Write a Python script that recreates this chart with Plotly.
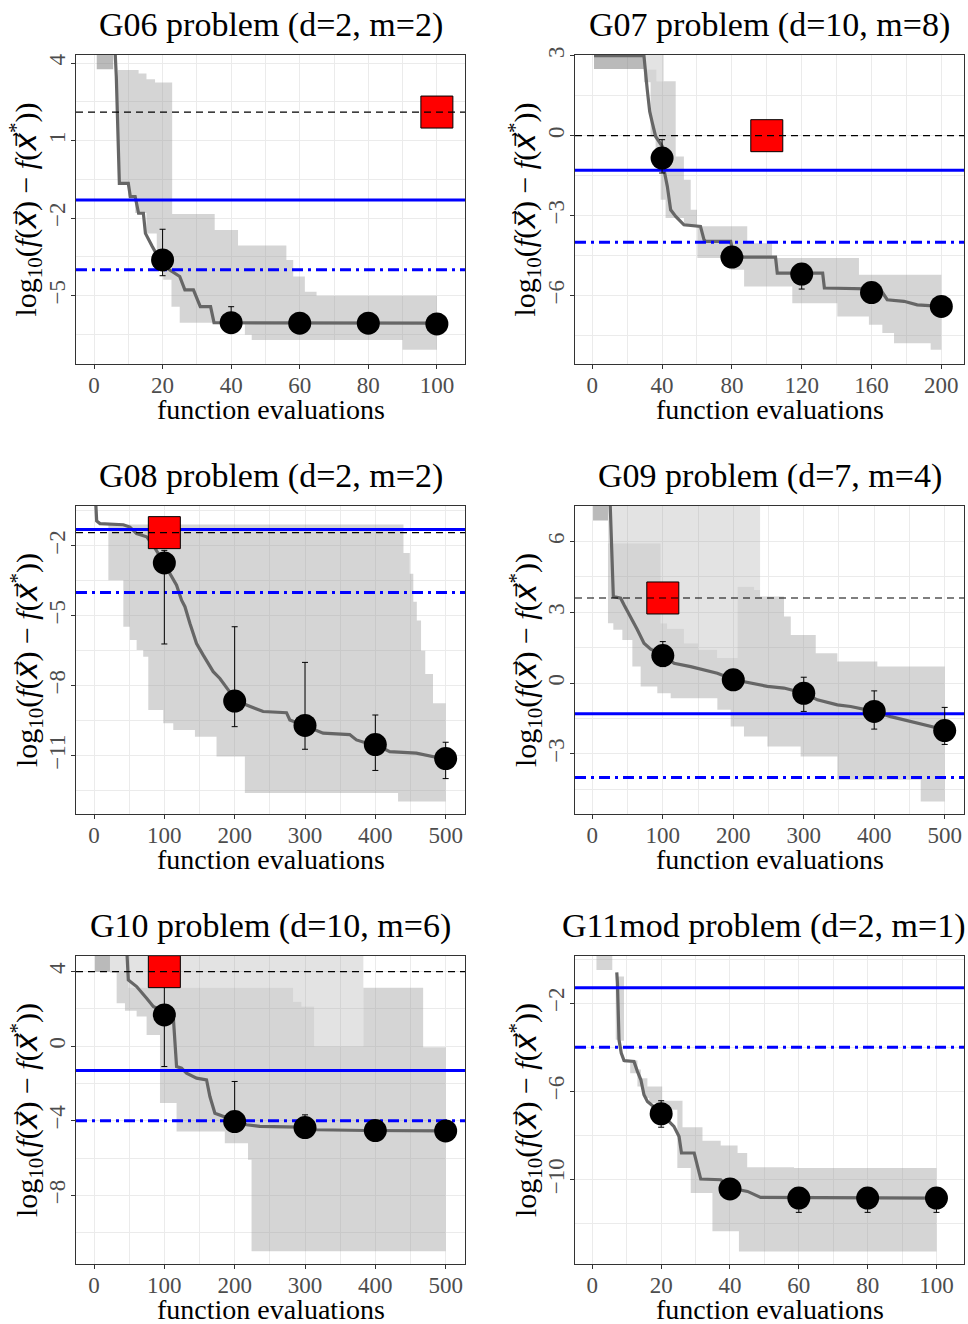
import plotly.graph_objects as go

# ---------------- data ----------------
TITLES = ["G06 problem (d=2, m=2)", "G07 problem (d=10, m=8)",
          "G08 problem (d=2, m=2)", "G09 problem (d=7, m=4)",
          "G10 problem (d=10, m=6)", "G11mod problem (d=2, m=1)"]

BLUE_SOLID = -1.3
BLUE_DASHDOT = -4.0

# G06
g06_med_x = [1, 5.6, 6.5, 7.4, 10, 10.6, 12, 13, 14.4, 15, 17, 19.2, 22, 25, 26.5, 29, 31, 34, 35, 100]
g06_med_y = [6, 6, 3.5, -0.65, -0.65, -1.17, -1.17, -1.81, -1.81, -2.59, -3.1, -3.62, -4.0, -4.26, -4.78, -4.78, -5.43, -5.43, -6.05, -6.07]
g06_up_x = [7, 13, 15.3, 17.8, 20.9, 22.8, 35.2, 42, 56.1, 58.1, 61.5, 64.9, 100]
g06_up_y = [3.74, 3.6, 3.38, 3.25, 3.25, -1.84, -2.46, -3.06, -3.62, -4.26, -4.85, -5.01, -5.01]
g06_lo_x = [7, 8.1, 10, 12, 15.3, 18.3, 20.2, 22.6, 25, 44, 46, 90, 100]
g06_lo_y = [-0.6, -0.65, -1.17, -1.8, -2.59, -3.5, -4.39, -5.43, -6.05, -6.52, -6.72, -7.1, -7.1]
g06_light_x, g06_light_y = [], []
g06_dark = [0.8, 5.6, 3.77]
g06_pt_x = [20, 40, 60, 80, 100]
g06_pt_y = [-3.62, -6.05, -6.07, -6.07, -6.1]
g06_pt_hi = [-2.43, -5.43, -6.0, -6.0, -6.02]
g06_pt_lo = [-4.23, -6.2, -6.15, -6.15, -6.18]
g06_ref = 2.11
g06_sq_x = 100

# G07
g07_med_x = [1, 29.6, 31.5, 32.9, 34.4, 36.3, 40.1, 41.1, 43, 44.9, 47.8, 52.5, 62, 64, 65, 79.3, 81.2, 105, 106, 132, 133, 165, 169, 178.6, 186.2, 193.8, 200]
g07_med_y = [3, 3, 1.73, 0.91, 0.48, -0.03, -0.4, -1.28, -1.9, -2.78, -3.03, -3.34, -3.4, -3.9, -3.96, -3.96, -4.55, -4.55, -5.15, -5.15, -5.71, -5.75, -6.15, -6.21, -6.34, -6.37, -6.4]
g07_up_x = [29.6, 36.8, 47.8, 52.5, 56.4, 60, 88.8, 103, 152.8, 200]
g07_up_y = [2.48, 2.04, -0.78, -1.65, -2.78, -3.4, -4.03, -4.59, -5.21, -5.21]
g07_lo_x = [29.6, 33.4, 36.3, 39.2, 42, 52.5, 60.2, 79.3, 87, 114.6, 140.4, 158.5, 166.2, 172.9, 193.9, 200]
g07_lo_y = [2.0, -0.03, -0.9, -2.4, -3.09, -3.4, -4.59, -5.03, -5.65, -6.28, -6.78, -7.09, -7.4, -7.78, -8.03, -8.03]
g07_light_x = [29.6, 36.8, 41]
g07_light_y = [2.48, 2.04, 2.04]
g07_dark = [1, 29.6, 2.5]
g07_pt_x = [40, 80, 120, 160, 200]
g07_pt_y = [-0.84, -4.55, -5.19, -5.88, -6.4]
g07_pt_hi = [-0.15, -4.45, -4.95, -5.75, -6.3]
g07_pt_lo = [-1.4, -4.65, -5.75, -6.0, -6.5]
g07_ref = 0.0
g07_sq_x = 100

# G08
g08_med_x = [1.4, 3.8, 8.5, 41.7, 51, 60.6, 74.8, 84.2, 98.5, 108, 117.4, 124.5, 129.3, 136.4, 145.8, 155.3, 169.5, 179, 197.9, 216.9, 240.5, 273.7, 278.4, 297.3, 325.8, 363.6, 373.1, 411, 420.5, 458.3, 482, 500]
g08_med_y = [0.5, -0.93, -1.04, -1.09, -1.19, -1.47, -1.61, -1.97, -2.69, -3.19, -3.69, -4.33, -4.61, -5.33, -6.19, -6.69, -7.4, -7.69, -8.47, -8.83, -9.11, -9.16, -9.47, -9.69, -10.04, -10.1, -10.33, -10.69, -10.83, -10.9, -11.04, -11.16]
g08_up_x = [18, 434.7, 440, 449, 454, 459, 465, 471, 482, 500]
g08_up_y = [-1.08, -1.08, -2.3, -3.19, -4.4, -5.2, -6.5, -7.5, -8.76, -8.76]
g08_lo_x = [18, 20.4, 41.7, 51, 60.6, 70, 77.2, 98.5, 112.7, 143.5, 174.2, 214.5, 432.3, 500]
g08_lo_y = [-1.1, -3.47, -5.47, -6.04, -6.47, -6.76, -9.04, -9.61, -9.9, -10.19, -11.04, -12.61, -12.97, -12.97]
g08_light_x, g08_light_y = [], []
g08_dark = None
g08_pt_x = [100, 200, 300, 400, 500]
g08_pt_y = [-2.73, -8.66, -9.71, -10.53, -11.13]
g08_pt_hi = [-2.19, -5.47, -7.0, -9.26, -10.43]
g08_pt_lo = [-6.21, -9.76, -10.73, -11.64, -11.99]
g08_ref = -1.43
g08_sq_x = 100

# G09
g09_med_x = [1, 23.7, 29.8, 40.2, 44.9, 54.4, 63.9, 73.3, 82.8, 101.7, 115.9, 139.5, 177.4, 201, 224.7, 248.4, 272, 300.4, 319.3, 347.7, 366.6, 399.7, 423.4, 461.2, 500]
g09_med_y = [9, 9, 3.67, 3.6, 3.32, 2.82, 2.26, 1.69, 1.44, 1.17, 0.84, 0.7, 0.42, 0.14, 0, -0.14, -0.21, -0.43, -0.71, -0.92, -0.99, -1.2, -1.42, -1.7, -1.98]
g09_up_x = [22.2, 97, 106, 130, 150, 177, 206, 229.5, 238, 272, 281.6, 317, 347.7, 404.4, 500]
g09_up_y = [5.93, 2.54, 2.3, 1.69, 1.41, 1.06, 4.09, 3.95, 3.67, 2.82, 2.04, 1.27, 0.92, 0.7, 0.7]
g09_lo_x = [22.2, 29.8, 42.6, 56.8, 68.6, 92.2, 111.2, 177.4, 196.3, 215.2, 248.4, 295.6, 347.7, 466, 500]
g09_lo_y = [2.54, 2.26, 1.83, 0.7, -0.14, -0.43, -0.64, -1.13, -1.84, -2.26, -2.69, -3.11, -4.1, -5.02, -5.02]
g09_light_x = [22.2, 97, 106, 130, 150, 177, 206, 229.5, 238]
g09_light_y = [5.93, 2.54, 2.3, 1.69, 1.41, 1.06, 4.09, 3.95, 3.95]
g09_dark = [1, 22.2, 6.89]
g09_pt_x = [100, 200, 300, 400, 500]
g09_pt_y = [1.17, 0.14, -0.43, -1.2, -2.01]
g09_pt_hi = [1.76, 0.25, 0.25, -0.33, -1.03]
g09_pt_lo = [0.7, 0.0, -1.2, -1.95, -2.6]
g09_ref = 3.61
g09_sq_x = 100

# G10
g10_med_x = [1, 45.5, 48.8, 60.6, 74.8, 84.3, 98.5, 112.7, 117.4, 124.5, 131.6, 145.8, 160, 164.8, 171.9, 183.7, 197.9, 216.9, 235.8, 292.6, 316.3, 387.3, 500]
g10_med_y = [6, 6, 3.55, 3.2, 2.57, 2.13, 1.86, 1.59, -1.09, -1.18, -1.45, -1.71, -1.8, -2.7, -3.59, -3.77, -3.95, -4.21, -4.3, -4.34, -4.48, -4.52, -4.54]
g10_up_x = [22.7, 48.8, 283, 295, 313, 383, 468, 500]
g10_up_y = [4.0, 3.14, 2.39, 2.13, 0.0, 3.14, -0.05, -0.05]
g10_lo_x = [22.7, 32.2, 44, 60.6, 74.8, 93.8, 117.4, 186, 219, 224, 500]
g10_lo_y = [3.95, 2.3, 1.9, 1.6, 0.6, -3.05, -4.57, -5.2, -6.09, -11.0, -11.0]
g10_light_x = [22.7, 48.8, 283, 295, 313, 383]
g10_light_y = [4.0, 3.14, 2.39, 2.13, 0.0, 0.0]
g10_dark = [1.4, 22.7, 4.0]
g10_pt_x = [100, 200, 300, 400, 500]
g10_pt_y = [1.68, -4.04, -4.36, -4.52, -4.54]
g10_pt_hi = [3.5, -1.89, -3.68, -4.4, -4.45]
g10_pt_lo = [-1.09, -4.2, -4.5, -4.65, -4.65]
g10_ref = 4.0
g10_sq_x = 100

# G11mod
g11_med_x = [7.1, 7.3, 7.75, 8.4, 9.2, 12.1, 13.1, 14.1, 15, 16, 18.9, 23.7, 25.2, 25.9, 29.6, 31.5, 37.3, 40.2, 45.1, 48.9, 100]
g11_med_y = [-0.6, -1.1, -3.66, -4.26, -4.6, -4.64, -5.09, -5.47, -6.15, -6.45, -6.83, -7.58, -8.04, -8.79, -8.79, -9.97, -10.0, -10.38, -10.53, -10.8, -10.83]
g11_up_x = [6.8, 9.2, 12.1, 13.1, 14.1, 16, 20.3, 26.2, 32, 37.3, 42.2, 45, 58.6, 100]
g11_up_y = [-0.79, -4.57, -4.6, -5.0, -5.4, -5.77, -6.42, -7.62, -8.23, -8.45, -8.79, -9.43, -9.47, -9.47]
g11_lo_x = [6.8, 7.75, 9.2, 11, 13.1, 15, 16.5, 19.9, 24.7, 28.6, 34.9, 42.6, 100]
g11_lo_y = [-3.66, -3.7, -4.7, -5.17, -5.77, -6.3, -6.53, -6.83, -9.47, -10.6, -12.34, -13.25, -13.25]
g11_light_x, g11_light_y = [], []
g11_dark = [1.2, 5.8, -0.49]
g11_pt_x = [20, 40, 60, 80, 100]
g11_pt_y = [-7.01, -10.42, -10.83, -10.83, -10.83]
g11_pt_hi = [-6.42, -10.3, -10.75, -10.75, -10.75]
g11_pt_lo = [-7.62, -10.5, -11.48, -11.48, -11.48]
g11_ref = None
g11_sq_x = None

# axis ranges & ticks
x_ranges = [[-5.25, 108.2], [-9.9, 213], [-25.6, 527.5], [-24.6, 527.4], [-25.6, 527.5], [-5.04, 108.0]]
y_ranges = [[-7.65, 4.32], [-8.56, 3.025], [-13.51, -0.286], [-5.55, 7.51], [-11.68, 4.84], [-13.82, 0.14]]
x_ticks = [[0, 20, 40, 60, 80, 100], [0, 40, 80, 120, 160, 200], [0, 100, 200, 300, 400, 500],
           [0, 100, 200, 300, 400, 500], [0, 100, 200, 300, 400, 500], [0, 20, 40, 60, 80, 100]]
x_minor = [[10, 30, 50, 70, 90], [20, 60, 100, 140, 180], [50, 150, 250, 350, 450],
           [50, 150, 250, 350, 450], [50, 150, 250, 350, 450], [10, 30, 50, 70, 90]]
y_ticks = [[4, 1, -2, -5], [3, 0, -3, -6], [-2, -5, -8, -11], [6, 3, 0, -3], [4, 0, -4, -8], [-2, -6, -10]]
y_minor = [[2.5, -0.5, -3.5, -6.5], [1.5, -1.5, -4.5, -7.5], [-0.5, -3.5, -6.5, -9.5, -12.5],
           [7.5, 4.5, 1.5, -1.5, -4.5], [2, -2, -6, -10], [0, -4, -8, -12]]

panels = [
    dict(mx=g06_med_x, my=g06_med_y, ux=g06_up_x, uy=g06_up_y, lx=g06_lo_x, ly=g06_lo_y, hx=g06_light_x, hy=g06_light_y,
         dark=g06_dark, px=g06_pt_x, py=g06_pt_y, phi=g06_pt_hi, plo=g06_pt_lo, ref=g06_ref, sq=g06_sq_x),
    dict(mx=g07_med_x, my=g07_med_y, ux=g07_up_x, uy=g07_up_y, lx=g07_lo_x, ly=g07_lo_y, hx=g07_light_x, hy=g07_light_y,
         dark=g07_dark, px=g07_pt_x, py=g07_pt_y, phi=g07_pt_hi, plo=g07_pt_lo, ref=g07_ref, sq=g07_sq_x),
    dict(mx=g08_med_x, my=g08_med_y, ux=g08_up_x, uy=g08_up_y, lx=g08_lo_x, ly=g08_lo_y, hx=g08_light_x, hy=g08_light_y,
         dark=g08_dark, px=g08_pt_x, py=g08_pt_y, phi=g08_pt_hi, plo=g08_pt_lo, ref=g08_ref, sq=g08_sq_x),
    dict(mx=g09_med_x, my=g09_med_y, ux=g09_up_x, uy=g09_up_y, lx=g09_lo_x, ly=g09_lo_y, hx=g09_light_x, hy=g09_light_y,
         dark=g09_dark, px=g09_pt_x, py=g09_pt_y, phi=g09_pt_hi, plo=g09_pt_lo, ref=g09_ref, sq=g09_sq_x),
    dict(mx=g10_med_x, my=g10_med_y, ux=g10_up_x, uy=g10_up_y, lx=g10_lo_x, ly=g10_lo_y, hx=g10_light_x, hy=g10_light_y,
         dark=g10_dark, px=g10_pt_x, py=g10_pt_y, phi=g10_pt_hi, plo=g10_pt_lo, ref=g10_ref, sq=g10_sq_x),
    dict(mx=g11_med_x, my=g11_med_y, ux=g11_up_x, uy=g11_up_y, lx=g11_lo_x, ly=g11_lo_y, hx=g11_light_x, hy=g11_light_y,
         dark=g11_dark, px=g11_pt_x, py=g11_pt_y, phi=g11_pt_hi, plo=g11_pt_lo, ref=g11_ref, sq=g11_sq_x),
]

# ---------------- style / layout ----------------
W, H = 968, 1324
SERIF = "Liberation Serif, DejaVu Serif, serif"
RIB = "rgba(150,150,150,0.40)"
LIGHT = "rgba(150,150,150,0.27)"
DARK = "rgba(110,110,110,0.48)"
MED = "rgb(102,102,102)"

col_px = [(76, 465), (575, 964)]
row_px = [(55, 364), (506, 814), (956, 1264)]

fig = go.Figure()


def step_vertices(xs, ys):
    """Expand a step function (value ys[k] holds from xs[k] to xs[k+1]) into path vertices."""
    vx, vy = [xs[0]], [ys[0]]
    for k in range(1, len(xs)):
        vx += [xs[k], xs[k]]
        vy += [ys[k - 1], ys[k]]
    return vx, vy


def add_region(lx, ly, ux, uy, color, xa, ya):
    uxv, uyv = step_vertices(ux, uy)
    lxv, lyv = step_vertices(lx, ly)
    fig.add_trace(go.Scatter(x=uxv + lxv[::-1], y=uyv + lyv[::-1], mode="lines",
                             line=dict(width=0), fill="toself", fillcolor=color,
                             showlegend=False, hoverinfo="skip", xaxis=xa, yaxis=ya))


XVEC = "<i><span style=\"font-family:DejaVu Sans\">x\u20d7</span></i>"
YTITLE = ("log<sub>10</sub>(<i>f</i>(" + XVEC + ") \u2212 <i>f</i>(" + XVEC + "<sup>*</sup>))")

annotations = []
for i, p in enumerate(panels):
    r, c = divmod(i, 2)
    n = "" if i == 0 else str(i + 1)
    xa, ya = "x" + n, "y" + n
    x0p, x1p = col_px[c]
    y0p, y1p = row_px[r]
    xr, yr = x_ranges[i], y_ranges[i]
    top = yr[1] + 5

    axis_common = dict(showgrid=True, gridcolor="#ebebeb", gridwidth=1.1, zeroline=False,
                       showline=True, mirror=True, linecolor="#333333", linewidth=1.1,
                       ticks="outside", ticklen=4, tickwidth=1, tickcolor="#333333",
                       tickfont=dict(family=SERIF, size=23, color="#4d4d4d"), automargin=False)
    fig.update_layout(**{
        "xaxis" + n: dict(domain=[x0p / W, x1p / W], anchor=ya, range=xr, tickmode="array",
                          tickvals=x_ticks[i], ticklabelstandoff=-4,
                          minor=dict(tickmode="array", tickvals=x_minor[i], showgrid=True,
                                     gridcolor="#ebebeb", gridwidth=0.6, ticks=""),
                          **axis_common),
        "yaxis" + n: dict(domain=[1 - y1p / H, 1 - y0p / H], anchor=xa, range=yr, tickmode="array",
                          tickvals=y_ticks[i], tickangle=-90, ticklabelstandoff=-3,
                          minor=dict(tickmode="array", tickvals=y_minor[i], showgrid=True,
                                     gridcolor="#ebebeb", gridwidth=0.6, ticks=""),
                          **axis_common),
    })

    # light band (infinite upper quantile) up to the top
    if p["hx"]:
        add_region(p["hx"], p["hy"], p["hx"], [top] * len(p["hx"]), LIGHT, xa, ya)
    # darker early patch
    if p["dark"]:
        d0, d1, dv = p["dark"]
        add_region([d0, d1], [dv, dv], [d0, d1], [top, top], DARK if i != 5 else RIB, xa, ya)
    # main ribbon
    add_region(p["lx"], p["ly"], p["ux"], p["uy"], RIB, xa, ya)
    # median line
    fig.add_trace(go.Scatter(x=p["mx"], y=p["my"], mode="lines", line=dict(color=MED, width=3.2),
                             showlegend=False, hoverinfo="skip", xaxis=xa, yaxis=ya))
    # blue reference lines
    fig.add_trace(go.Scatter(x=xr, y=[BLUE_SOLID, BLUE_SOLID], mode="lines",
                             line=dict(color="#0000ff", width=3), showlegend=False, hoverinfo="skip",
                             xaxis=xa, yaxis=ya))
    fig.add_trace(go.Scatter(x=xr, y=[BLUE_DASHDOT, BLUE_DASHDOT], mode="lines",
                             line=dict(color="#0000ff", width=3, dash="11px,5px,3px,5px"),
                             showlegend=False, hoverinfo="skip", xaxis=xa, yaxis=ya))
    # points with error bars
    fig.add_trace(go.Scatter(
        x=p["px"], y=p["py"], mode="markers",
        marker=dict(size=23, color="black"),
        error_y=dict(type="data", symmetric=False,
                     array=[h - v for h, v in zip(p["phi"], p["py"])],
                     arrayminus=[v - l for v, l in zip(p["py"], p["plo"])],
                     color="black", thickness=1, width=3),
        showlegend=False, hoverinfo="skip", xaxis=xa, yaxis=ya))
    # red square and black dashed reference
    if p["ref"] is not None:
        fig.add_trace(go.Scatter(x=[p["sq"]], y=[p["ref"]], mode="markers",
                                 marker=dict(symbol="square", size=32, color="#ff0000",
                                             line=dict(color="black", width=1)),
                                 showlegend=False, hoverinfo="skip", xaxis=xa, yaxis=ya))
        fig.add_trace(go.Scatter(x=xr, y=[p["ref"], p["ref"]], mode="lines",
                                 line=dict(color="black", width=1.2, dash="7px,5px"),
                                 showlegend=False, hoverinfo="skip", xaxis=xa, yaxis=ya))

    cx = (x0p + x1p) / 2 / W
    if i == 5:
        title_pos = dict(x=(W - 1) / W, xanchor="right")
    else:
        title_pos = dict(x=cx, xanchor="center")
    annotations.append(dict(text=TITLES[i], y=1 - (y0p - 30) / H, xref="paper", yref="paper",
                            showarrow=False, yanchor="middle",
                            font=dict(family=SERIF, size=34, color="black"), **title_pos))
    annotations.append(dict(text="function evaluations", x=cx, y=1 - (y1p + 45) / H, xref="paper",
                            yref="paper", showarrow=False, xanchor="center", yanchor="middle",
                            font=dict(family=SERIF, size=28, color="black")))
    annotations.append(dict(
        text=YTITLE,
        x=(x0p - 50) / W, y=1 - (y0p + y1p) / 2 / H, xref="paper", yref="paper",
        showarrow=False, xanchor="center", yanchor="middle", textangle=-90,
        font=dict(family=SERIF, size=30, color="black")))

fig.update_layout(width=W, height=H, margin=dict(l=0, r=0, t=0, b=0),
                  paper_bgcolor="white", plot_bgcolor="white", showlegend=False,
                  annotations=annotations)

fig.write_html("out.html", config={"displayModeBar": False},
               post_script="document.body.style.margin='0px';")
